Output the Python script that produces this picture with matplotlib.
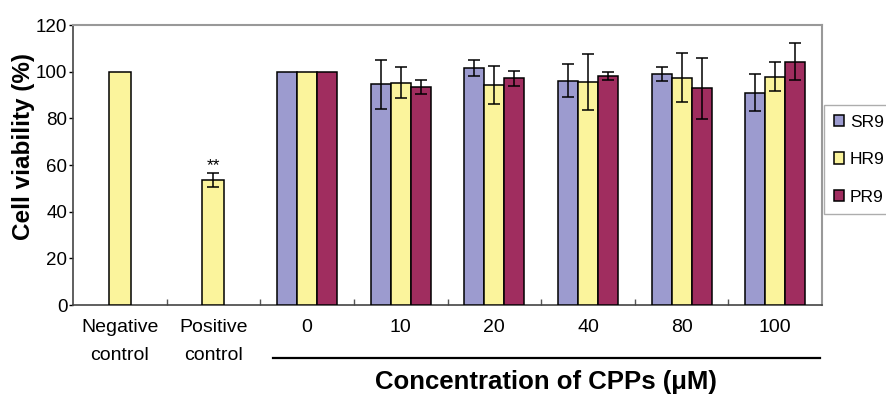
import matplotlib
matplotlib.use('Agg')
import matplotlib.pyplot as plt
import matplotlib.transforms as mtransforms
import numpy as np

plt.rcParams['font.family'] = ['Liberation Sans', 'DejaVu Sans']

categories = ["Negative\ncontrol", "Positive\ncontrol", "0", "10", "20", "40", "80", "100"]
ctrl_values = [100, 53.6]
ctrl_err = [0, 3.0]
series_names = ["SR9", "HR9", "PR9"]
sr9 = [100, 94.6, 101.5, 96.1, 99.2, 91.0]
sr9_err = [0, 10.5, 3.5, 7.0, 3.0, 8.0]
hr9 = [100, 95.3, 94.3, 95.7, 97.4, 97.9]
hr9_err = [0, 6.5, 8.0, 12.0, 10.5, 6.2]
pr9 = [100, 93.6, 97.1, 98.1, 92.9, 104.3]
pr9_err = [0, 3.0, 3.2, 1.8, 13.0, 8.0]

colors = ["#9c9bcf", "#fbf49c", "#a02d5f"]

fig = plt.figure(figsize=(8.86, 3.96), dpi=100)
ax = fig.add_axes([73/886, 1-305/396, (822-73)/886, 280/396])

def errbars(x, y, e):
    x = np.asarray(x, float); y = np.asarray(y, float); e = np.asarray(e, float)
    m = e > 0
    if m.any():
        ax.errorbar(x[m], y[m], yerr=e[m], fmt='none', ecolor='black',
                    elinewidth=1.1, capsize=4.2, capthick=1.1, zorder=4)

# control bars (single yellow)
xc = np.arange(2)
ax.bar(xc, ctrl_values, width=0.235, color=colors[1], edgecolor='black', linewidth=1.1, zorder=3)
errbars(xc, ctrl_values, ctrl_err)
ax.text(1, 56.4, "**", ha='center', va='bottom', fontsize=12.5)

# grouped bars
xg = np.arange(2, 8)
w = 0.214
for k, (vals, errs) in enumerate([(sr9, sr9_err), (hr9, hr9_err), (pr9, pr9_err)]):
    xs = xg + (k - 1) * w
    ax.bar(xs, vals, width=w, color=colors[k], edgecolor='black', linewidth=1.1,
           label=series_names[k], zorder=3)
    errbars(xs, vals, errs)

ax.set_xlim(-0.5, 7.5)
ax.set_ylim(0, 120)
ax.set_yticks(np.arange(0, 121, 20))
ax.tick_params(axis='y', direction='out', length=3, width=1, labelsize=13.5, pad=1)
ax.set_xticks(np.arange(8))
ax.set_xticklabels(categories, fontsize=14, linespacing=1.85)
ax.tick_params(axis='x', which='major', length=0, pad=10)
ax.set_xticks(np.arange(0.5, 7.5, 1), minor=True)
ax.tick_params(axis='x', which='minor', direction='in', length=4, width=1, color='#555555')

for s in ['left', 'bottom']:
    ax.spines[s].set_color('#444444')
    ax.spines[s].set_linewidth(1.2)
for s in ['top', 'right']:
    ax.spines[s].set_color('#999999')
    ax.spines[s].set_linewidth(1.5)

trans = mtransforms.blended_transform_factory(ax.transData, ax.transAxes)
ax.plot([1.637, 7.48], [-0.189, -0.189], color='black', lw=1.6, transform=trans, clip_on=False)
ax.text(4.55, -0.275, "Concentration of CPPs (\u03bcM)", transform=trans, ha='center', va='center',
        fontsize=18.5, fontweight='bold')

fig.text(24/886, 1-147/396, "Cell viability (%)", rotation=90, ha='center', va='center',
         fontsize=17.5, fontweight='bold')

fig.legend(loc='upper left', bbox_to_anchor=(824/886, 1-105/396), fontsize=12.5,
           frameon=True, fancybox=False, edgecolor='#999999', borderpad=0.55,
           labelspacing=1.3, handlelength=0.6, handleheight=0.6, handletextpad=0.35,
           borderaxespad=0)

fig.savefig('out.png', dpi=100)
